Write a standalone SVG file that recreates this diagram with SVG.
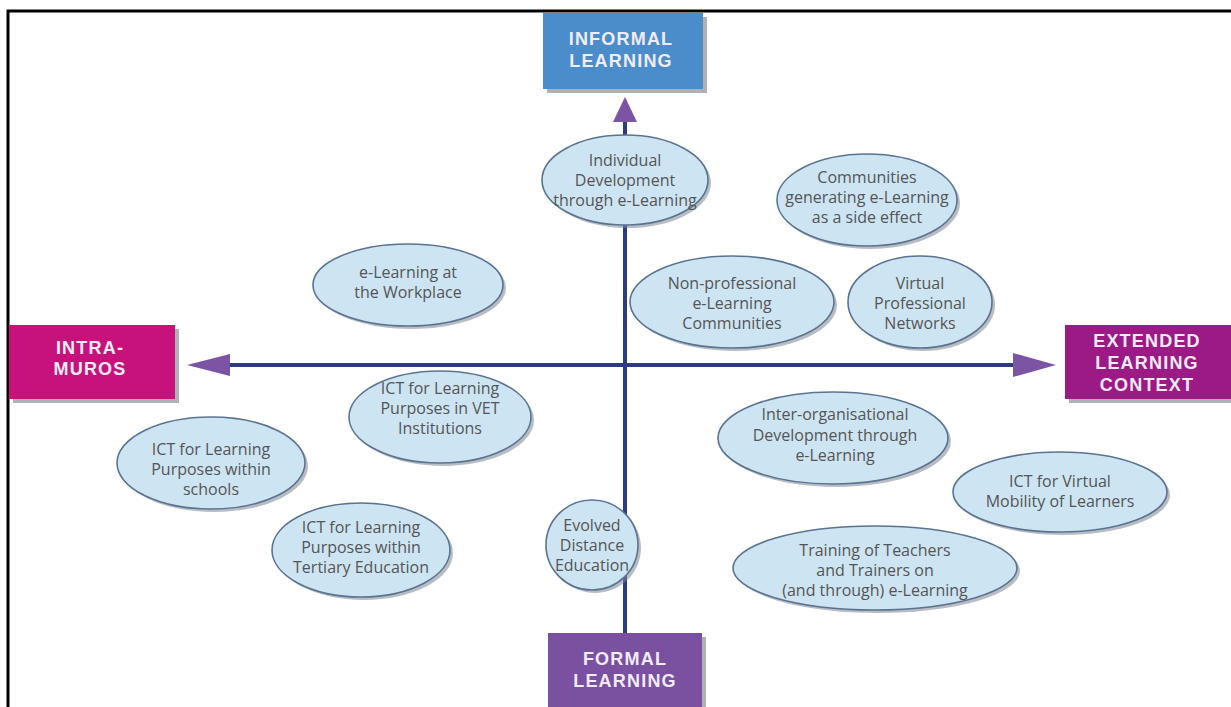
<svg xmlns="http://www.w3.org/2000/svg" width="1231" height="707" viewBox="0 0 1231 707">
<defs>
<style>
.bubble{fill:#cde4f3;stroke:#5a7391;stroke-width:1.6}
.bshadow{fill:#7d8794;opacity:0.55}
.bt{font-family:"Open Sans","Noto Sans",sans-serif;font-size:16px;fill:#555;text-anchor:middle}
.ht{font-family:"Liberation Sans",Arial,sans-serif;font-size:18px;font-weight:bold;fill:#f1ecf6;text-anchor:middle;letter-spacing:1.2px}
.hshadow{fill:#8c9097;opacity:0.7}
.axis{stroke:#2e3b7e;stroke-width:4;fill:none}
.head{fill:#7b54a3}
</style>
</defs>
<rect width="1231" height="707" fill="#fff"/>
<!-- frame -->
<path d="M8,707 V11 H1231" fill="none" stroke="#000" stroke-width="3"/>

<!-- connectors -->
<g id="connectors">
<line class="axis" x1="228" y1="365" x2="1015" y2="365"/>
<line class="axis" x1="625" y1="120" x2="625" y2="652"/>
<polygon class="head" points="187,365 230,354 230,376"/>
<polygon class="head" points="1056,365 1013,353 1013,377"/>
<polygon class="head" points="625,97 613,122 637,122"/>
<polygon class="head" points="625,676 613,651 637,651"/>
</g>

<!-- header boxes -->
<g id="informal">
<rect class="hshadow" x="547" y="17" width="160" height="76"/>
<rect x="543" y="13" width="160" height="76" fill="#4b8dcb"/>
<text class="ht" x="621" y="45">INFORMAL</text>
<text class="ht" x="621" y="67">LEARNING</text>
</g>
<g id="formal">
<rect class="hshadow" x="552" y="637" width="154" height="74"/>
<rect x="548" y="633" width="154" height="74" fill="#7a50a1"/>
<text class="ht" x="625" y="665">FORMAL</text>
<text class="ht" x="625" y="687">LEARNING</text>
</g>
<g id="intramuros">
<rect class="hshadow" x="13" y="329" width="166" height="74"/>
<rect x="9" y="325" width="166" height="74" fill="#c7127c"/>
<text class="ht" x="90" y="354">INTRA-</text>
<text class="ht" x="90" y="375">MUROS</text>
</g>
<g id="extended">
<rect class="hshadow" x="1069" y="329" width="162" height="74"/>
<rect x="1065" y="325" width="166" height="74" fill="#9b1a86"/>
<text class="ht" x="1147" y="347">EXTENDED</text>
<text class="ht" x="1147" y="369">LEARNING</text>
<text class="ht" x="1147" y="391">CONTEXT</text>
</g>

<!-- bubbles -->
<g id="individual">
<ellipse class="bshadow" cx="628" cy="183" rx="83" ry="45"/>
<ellipse class="bubble" cx="625" cy="180" rx="83" ry="45"/>
<text class="bt" x="625" y="166">Individual</text>
<text class="bt" x="625" y="186">Development</text>
<text class="bt" x="625" y="206">through e-Learning</text>
</g>
<g id="communities">
<ellipse class="bshadow" cx="870" cy="203" rx="90" ry="46"/>
<ellipse class="bubble" cx="867" cy="200" rx="90" ry="46"/>
<text class="bt" x="867" y="183">Communities</text>
<text class="bt" x="867" y="203">generating e-Learning</text>
<text class="bt" x="867" y="223">as a side effect</text>
</g>
<g id="workplace">
<ellipse class="bshadow" cx="411" cy="288" rx="95" ry="41"/>
<ellipse class="bubble" cx="408" cy="285" rx="95" ry="41"/>
<text class="bt" x="408" y="278">e-Learning at</text>
<text class="bt" x="408" y="298">the Workplace</text>
</g>
<g id="nonprofessional">
<ellipse class="bshadow" cx="735" cy="305" rx="102" ry="46"/>
<ellipse class="bubble" cx="732" cy="302" rx="102" ry="46"/>
<text class="bt" x="732" y="289">Non-professional</text>
<text class="bt" x="732" y="309">e-Learning</text>
<text class="bt" x="732" y="329">Communities</text>
</g>
<g id="virtualnetworks">
<ellipse class="bshadow" cx="923" cy="305" rx="72" ry="46"/>
<ellipse class="bubble" cx="920" cy="302" rx="72" ry="46"/>
<text class="bt" x="920" y="289">Virtual</text>
<text class="bt" x="920" y="309">Professional</text>
<text class="bt" x="920" y="329">Networks</text>
</g>
<g id="vet">
<ellipse class="bshadow" cx="443" cy="420" rx="91" ry="46"/>
<ellipse class="bubble" cx="440" cy="417" rx="91" ry="46"/>
<text class="bt" x="440" y="394">ICT for Learning</text>
<text class="bt" x="440" y="414">Purposes in VET</text>
<text class="bt" x="440" y="434">Institutions</text>
</g>
<g id="schools">
<ellipse class="bshadow" cx="214" cy="466" rx="94" ry="46"/>
<ellipse class="bubble" cx="211" cy="463" rx="94" ry="46"/>
<text class="bt" x="211" y="455">ICT for Learning</text>
<text class="bt" x="211" y="475">Purposes within</text>
<text class="bt" x="211" y="495">schools</text>
</g>
<g id="tertiary">
<ellipse class="bshadow" cx="364" cy="553" rx="89" ry="47"/>
<ellipse class="bubble" cx="361" cy="550" rx="89" ry="47"/>
<text class="bt" x="361" y="533">ICT for Learning</text>
<text class="bt" x="361" y="553">Purposes within</text>
<text class="bt" x="361" y="573">Tertiary Education</text>
</g>
<g id="distance">
<ellipse class="bshadow" cx="595" cy="548" rx="46" ry="45"/>
<ellipse class="bubble" cx="592" cy="545" rx="46" ry="45"/>
<text class="bt" x="592" y="531">Evolved</text>
<text class="bt" x="592" y="551">Distance</text>
<text class="bt" x="592" y="571">Education</text>
</g>
<g id="interorg">
<ellipse class="bshadow" cx="836" cy="441" rx="115" ry="46"/>
<ellipse class="bubble" cx="833" cy="438" rx="115" ry="46"/>
<text class="bt" x="835" y="420">Inter-organisational</text>
<text class="bt" x="835" y="441">Development through</text>
<text class="bt" x="835" y="461">e-Learning</text>
</g>
<g id="mobility">
<ellipse class="bshadow" cx="1063" cy="495" rx="107" ry="40"/>
<ellipse class="bubble" cx="1060" cy="492" rx="107" ry="40"/>
<text class="bt" x="1060" y="487">ICT for Virtual</text>
<text class="bt" x="1060" y="507">Mobility of Learners</text>
</g>
<g id="training">
<ellipse class="bshadow" cx="878" cy="571" rx="142" ry="42"/>
<ellipse class="bubble" cx="875" cy="568" rx="142" ry="42"/>
<text class="bt" x="875" y="556">Training of Teachers</text>
<text class="bt" x="875" y="576">and Trainers on</text>
<text class="bt" x="875" y="596">(and through) e-Learning</text>
</g>
</svg>
